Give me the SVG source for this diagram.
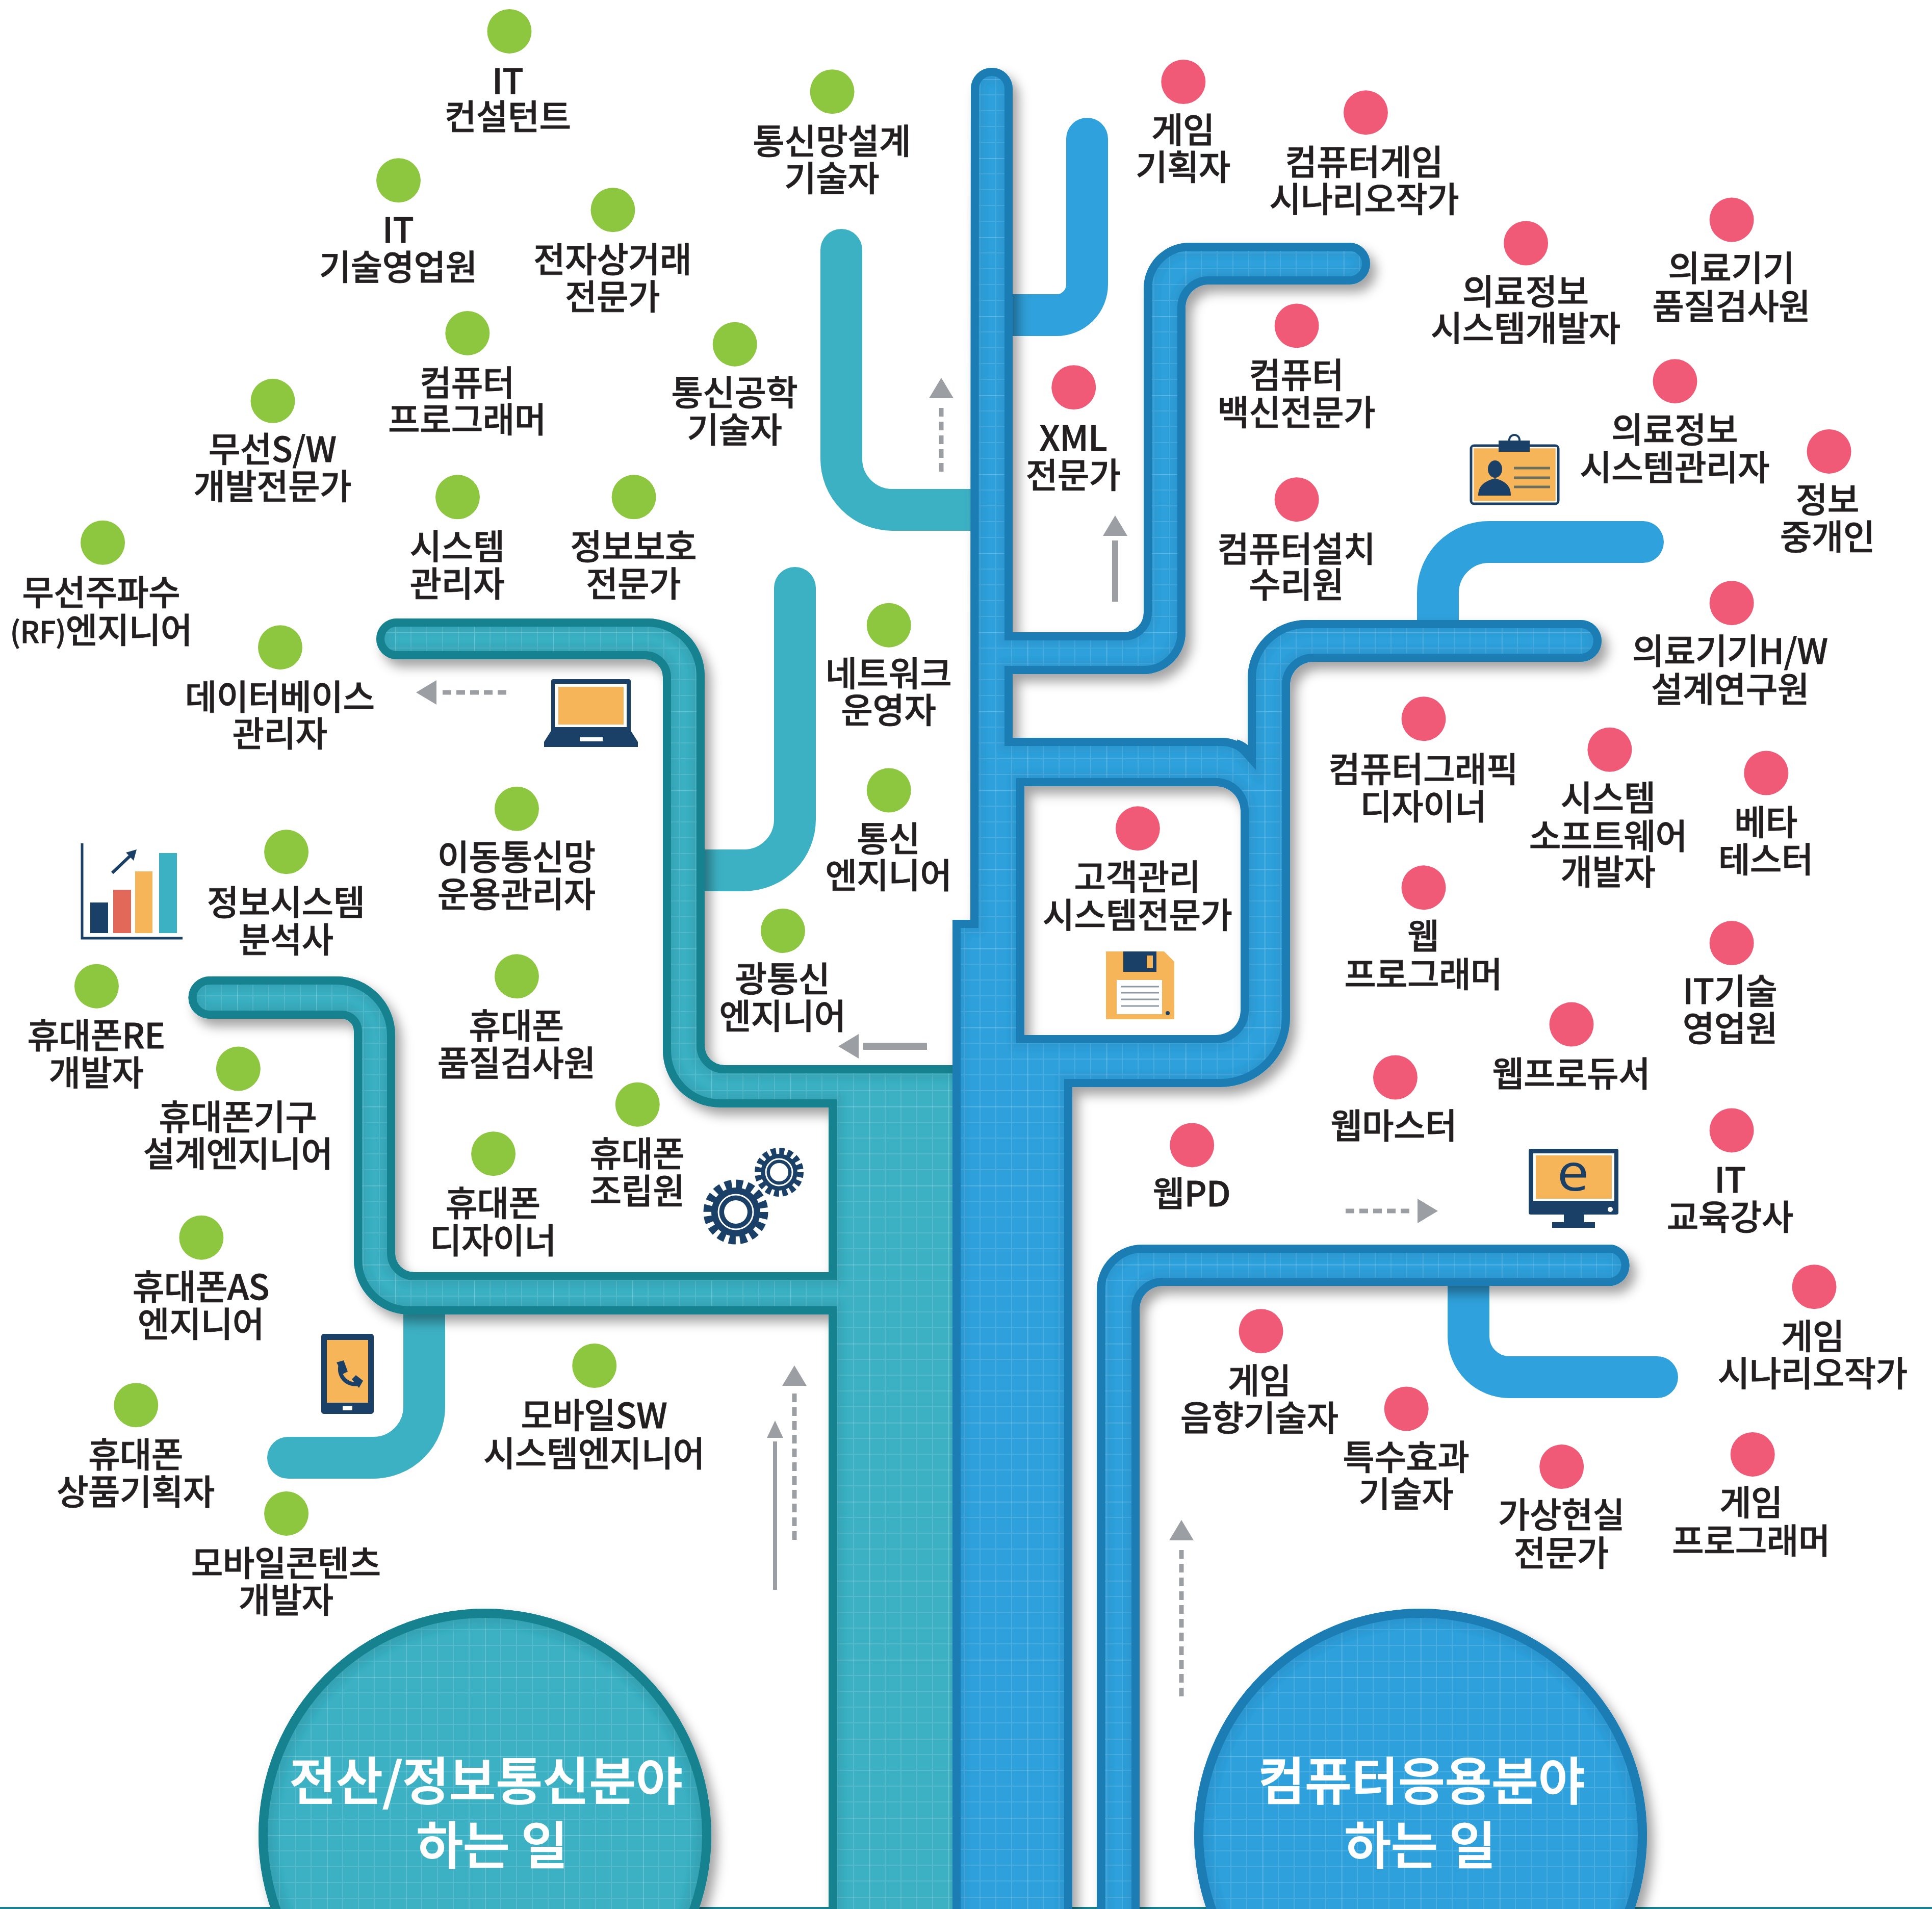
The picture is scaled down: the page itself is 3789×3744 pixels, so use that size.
<svg xmlns="http://www.w3.org/2000/svg" width="3789" height="3744" viewBox="0 0 3789 3744">
<style>
text{font-family:"Noto Sans CJK KR","Noto Sans",sans-serif;}
.lb text{font-size:28.2px;font-weight:500;fill:#231f20;stroke:#231f20;stroke-width:.32px;text-anchor:middle;letter-spacing:-.3px}
.g{fill:#8dc63f}.r{fill:#f15a77}
.title{font-size:99.5px;font-weight:500;fill:#fff;stroke:#fff;stroke-width:2px;text-anchor:middle}
.pb{fill:none;stroke:#2fa1dc;stroke-width:82;stroke-linecap:round}
.pt{fill:none;stroke:#3cb1c4;stroke-width:82;stroke-linecap:round}
.ds{fill:none;stroke:#9b9fa3;stroke-width:9;stroke-dasharray:17 10}
.sl{fill:none;stroke:#9b9fa3;stroke-width:9}
.navy{fill:#1a4067}.or{fill:#f7b55a}
</style>
<defs>
<pattern id="grid" width="155" height="155" patternUnits="userSpaceOnUse">
<path d="M31 0V155M62 0V155M93 0V155M124 0V155M0 31H155M0 62H155M0 93H155M0 124H155" stroke="#fff" stroke-opacity=".13" stroke-width="2" fill="none"/>
<path d="M0 0V155M0 0H155" stroke="#fff" stroke-opacity=".26" stroke-width="3" fill="none"/>
</pattern>
<filter id="shadow" x="-10%" y="-10%" width="120%" height="120%"><feDropShadow dx="12" dy="15" stdDeviation="11" flood-color="#000" flood-opacity=".36"/></filter>
<filter id="blur" x="-10%" y="-10%" width="120%" height="120%"><feGaussianBlur stdDeviation="8"/></filter>
<marker id="ah" viewBox="0 0 40 48" markerUnits="userSpaceOnUse" markerWidth="40" markerHeight="48" refX="-9" refY="24" orient="auto" overflow="visible"><path d="M0 0L40 24L0 48Z" fill="#9b9fa3"/></marker>
<marker id="as" viewBox="0 0 34 32" markerUnits="userSpaceOnUse" markerWidth="34" markerHeight="32" refX="-7" refY="16" orient="auto" overflow="visible"><path d="M0 0L34 16L0 32Z" fill="#9b9fa3"/></marker>

<path id="blueShape" fill-rule="evenodd" clip-rule="evenodd" d="M1904 174A41 41 0 0 1 1986 174V1240H2205A38 38 0 0 0 2243 1202V566A90 90 0 0 1 2333 476H2646A41 41 0 0 1 2646 558H2370A45 45 0 0 0 2325 603V1240A82 82 0 0 1 2243 1322H1986V1447H2398Q2430 1449 2447 1468V1330A114 114 0 0 1 2561 1216H3100A41 41 0 0 1 3100 1298H2575A45 45 0 0 0 2530 1343V1995A137 137 0 0 1 2393 2132H2103V3800H1868V1804H1903ZM2009 1542V2030H2385A48 48 0 0 0 2433 1982V1590A48 48 0 0 0 2385 1542ZM2151 3800V2530A89 89 0 0 1 2240 2441H3161A41 41 0 0 1 3161 2522H2280A45 45 0 0 0 2235 2567V3800Z"/>
<clipPath id="blueClip"><use href="#blueShape"/></clipPath>
<path id="tealShape" fill-rule="evenodd" clip-rule="evenodd" d="M1920 2089H1420A38 38 0 0 1 1382 2051V1325A112 112 0 0 0 1270 1213H778A40 40 0 0 0 778 1293H1265A35 35 0 0 1 1300 1328V2060A112 112 0 0 0 1412 2172H1625V2495H812A37 37 0 0 1 775 2458V2030A115 115 0 0 0 660 1915H411A41 41 0 0 0 411 1998H670A24 24 0 0 1 694 2022V2470A108 108 0 0 0 802 2578H1625V3800H1920Z"/>
<clipPath id="tealClip"><use href="#tealShape"/></clipPath>
<circle id="circ" r="444"/>
<clipPath id="c1"><use href="#circ" x="951" y="3599"/></clipPath>
<clipPath id="c2"><use href="#circ" x="2786" y="3599"/></clipPath>
</defs>
<rect width="3789" height="3744" fill="#fff"/>
<rect y="3740" width="3789" height="4" fill="#19818f"/>

<g id="connectors">
<g id="plain-branches">
<path class="pt" d="M1650 490V900A100 100 0 0 0 1750 1000H1935"/>
<path class="pt" d="M1559 1153V1607A100 100 0 0 1 1459 1707H1345"/>
<path class="pt" d="M832 2550V2759A100 100 0 0 1 732 2859H565"/>
<path class="pb" d="M2132 272V558A60 60 0 0 1 2072 618H1950"/>
<path class="pb" d="M2820 1250V1163A100 100 0 0 1 2920 1063H3222"/>
<path class="pb" d="M2880 2500V2621A80 80 0 0 0 2960 2701H3250"/>
</g>
<g id="teal-tree" filter="url(#shadow)">
<use href="#tealShape" fill="#3cb1c4"/>
<use href="#tealShape" fill="url(#grid)"/>
<g clip-path="url(#tealClip)"><use href="#tealShape" fill="none" stroke="#19818f" stroke-opacity=".28" stroke-width="56" filter="url(#blur)"/><use href="#tealShape" fill="none" stroke="#19818f" stroke-width="32"/></g>
</g>
<g id="blue-tree" filter="url(#shadow)">
<use href="#blueShape" fill="#2fa1dc"/>
<use href="#blueShape" fill="url(#grid)"/>
<g clip-path="url(#blueClip)"><use href="#blueShape" fill="none" stroke="#1b7db5" stroke-opacity=".28" stroke-width="56" filter="url(#blur)"/><use href="#blueShape" fill="none" stroke="#1b7db5" stroke-width="32"/></g>
<path d="M2425 1456Q2445 1462 2458 1484" fill="none" stroke="#1b7db5" stroke-width="12"/>
</g>
<g id="arrows">
<path class="ds" d="M1846 925V790" marker-end="url(#ah)"/>
<path class="sl" style="stroke-width:12" d="M2187 1180V1060" marker-end="url(#ah)"/>
<path class="ds" d="M993 1358H865" marker-end="url(#ah)"/>
<path class="sl" style="stroke-width:14" d="M1818 2052H1693" marker-end="url(#ah)"/>
<path class="ds" d="M2639 2375H2771" marker-end="url(#ah)"/>
<path class="ds" d="M1558 3020V2727" marker-end="url(#ah)"/>
<path class="sl" style="stroke-width:8" d="M1520 3118V2827" marker-end="url(#as)"/>
<path class="ds" d="M2317 3327V3030" marker-end="url(#ah)"/>
</g>
</g>

<g id="root-left" filter="url(#shadow)">
<use href="#circ" x="951" y="3599" fill="#3cb1c4"/>
<use href="#circ" x="951" y="3599" fill="url(#grid)"/>
<g clip-path="url(#c1)"><use href="#circ" x="951" y="3599" fill="none" stroke="#19818f" stroke-opacity=".3" stroke-width="66" filter="url(#blur)"/><use href="#circ" x="951" y="3599" fill="none" stroke="#19818f" stroke-width="36"/></g>
<text class="title"><tspan x="953" y="3530">전산/정보통신분야</tspan><tspan x="965" y="3656">하는 일</tspan></text>
</g>
<g id="root-right" filter="url(#shadow)">
<use href="#circ" x="2786" y="3599" fill="#2fa1dc"/>
<use href="#circ" x="2786" y="3599" fill="url(#grid)"/>
<g clip-path="url(#c2)"><use href="#circ" x="2786" y="3599" fill="none" stroke="#1b7db5" stroke-opacity=".3" stroke-width="66" filter="url(#blur)"/><use href="#circ" x="2786" y="3599" fill="none" stroke="#1b7db5" stroke-width="36"/></g>
<text class="title"><tspan x="2788" y="3530">컴퓨터응용분야</tspan><tspan x="2785" y="3656">하는 일</tspan></text>
</g>

<g id="icons">
<g id="icon-laptop">
<path class="navy" d="M1081 1336Q1081 1332 1085 1332H1233Q1237 1332 1237 1336V1433L1251 1455V1465H1067V1455L1081 1433Z"/>
<rect x="1088" y="1341" width="141" height="85" fill="#fff"/>
<rect class="or" x="1095" y="1347" width="128" height="74"/>
<rect x="1137" y="1446" width="45" height="8" fill="#fff"/>
</g>
<g id="icon-chart">
<path d="M161 1654V1840H358" fill="none" stroke="#1a4067" stroke-width="5"/>
<rect class="navy" x="177" y="1770" width="35" height="60"/>
<rect x="222" y="1745" width="35" height="85" fill="#e2695a"/>
<rect class="or" x="265" y="1709" width="34" height="121"/>
<rect x="312" y="1673" width="35" height="157" fill="#3cb1c4"/>
<path d="M220 1712L258 1676" stroke="#1a4067" stroke-width="6" fill="none"/>
<path class="navy" d="M268 1666L262 1688L247 1672Z"/>
</g>
<g id="icon-phone">
<rect class="navy" x="630" y="2616" width="103" height="157" rx="5"/>
<rect class="or" x="641" y="2628" width="81" height="123"/>
<rect x="672" y="2758" width="19" height="8" fill="#fff"/>
<path d="M668 2677C662 2700 682 2718 702 2714" fill="none" stroke="#1a4067" stroke-width="8"/>
<path class="navy" d="M660 2672L674 2668L682 2690L672 2695ZM690 2705L698 2697L712 2708L704 2722Z"/>
</g>
<g id="icon-gears">
<circle class="navy" cx="1443" cy="2377" r="48"/>
<circle cx="1443" cy="2377" r="55" fill="none" stroke="#1a4067" stroke-width="17" stroke-dasharray="13.2 8.4"/>
<circle cx="1443" cy="2377" r="34" fill="none" stroke="#fff" stroke-width="3"/>
<circle cx="1443" cy="2377" r="23" fill="#fff"/>
<circle class="navy" cx="1528" cy="2299" r="36"/>
<circle cx="1528" cy="2299" r="41" fill="none" stroke="#1a4067" stroke-width="14" stroke-dasharray="9.8 6.3"/>
<circle cx="1528" cy="2299" r="26" fill="none" stroke="#fff" stroke-width="3"/>
<circle cx="1528" cy="2299" r="18" fill="#fff"/>
</g>
<g id="icon-floppy">
<path class="or" d="M2169 1866H2283L2303 1886V1999H2169Z"/>
<rect class="navy" x="2203" y="1866" width="65" height="40"/>
<rect class="or" x="2249" y="1874" width="12" height="25"/>
<rect x="2190" y="1922" width="89" height="67" fill="#fff"/>
<path d="M2198 1935H2273M2198 1947H2273M2198 1960H2273M2198 1973H2273" stroke="#8d99a6" stroke-width="3"/>
<circle class="navy" cx="2290" cy="1987" r="4"/>
</g>
<g id="icon-id">
<circle cx="2970" cy="863" r="10" fill="none" stroke="#1a4067" stroke-width="4"/>
<rect x="2885" y="874" width="171" height="114" rx="6" fill="#f7b55a" stroke="#1a4067" stroke-width="5"/>
<rect x="2889" y="878" width="163" height="106" fill="none" stroke="#fff" stroke-width="2.5"/>
<rect class="navy" x="2939" y="864" width="61" height="22"/>
<ellipse class="navy" cx="2932" cy="920" rx="14" ry="17"/>
<path class="navy" d="M2899 972C2899 950 2915 943 2932 938C2949 943 2963 950 2963 972Z"/>
<path d="M2969 918H3040M2969 937H3040M2969 955H3040" stroke="#6b6f5e" stroke-width="5"/>
</g>
<g id="icon-monitor">
<rect class="navy" x="2998" y="2253" width="176" height="129" rx="4"/>
<rect x="3007" y="2262" width="159" height="93" fill="#fff"/>
<rect class="or" x="3012" y="2266" width="149" height="85"/>
<rect class="navy" x="3067" y="2380" width="40" height="20"/>
<rect class="navy" x="3044" y="2397" width="84" height="11"/>
<circle cx="3158" cy="2372" r="5" fill="#fff"/>
<text transform="translate(3085 2335) scale(1.12 1)" font-size="100" text-anchor="middle" fill="#1a4067" style="font-family:'Open Sans',sans-serif">e</text>
</g>
</g>

<g id="nodes" class="lb" transform="scale(2.4165)">
<g id="n01"><circle class="g" cx="413.4" cy="25.4" r="18"/><text><tspan x="412" y="76">IT</tspan><tspan x="412" y="105">컨설턴트</tspan></text></g>
<g id="n02"><circle class="g" cx="323.4" cy="146.4" r="18"/><text><tspan x="323" y="197">IT</tspan><tspan x="323" y="227">기술영업원</tspan></text></g>
<g id="n03"><circle class="g" cx="497.4" cy="170.4" r="18"/><text><tspan x="497" y="221">전자상거래</tspan><tspan x="497" y="251">전문가</tspan></text></g>
<g id="n04"><circle class="g" cx="675.4" cy="74.4" r="18"/><text><tspan x="675" y="125">통신망설계</tspan><tspan x="675" y="155">기술자</tspan></text></g>
<g id="n05"><circle class="g" cx="379.4" cy="270.4" r="18"/><text><tspan x="379" y="321">컴퓨터</tspan><tspan x="379" y="351">프로그래머</tspan></text></g>
<g id="n06"><circle class="g" cx="596.4" cy="279.4" r="18"/><text><tspan x="596" y="329">통신공학</tspan><tspan x="596" y="359">기술자</tspan></text></g>
<g id="n07"><circle class="g" cx="221.4" cy="325.4" r="18"/><text><tspan x="221" y="375">무선S/W</tspan><tspan x="221" y="405">개발전문가</tspan></text></g>
<g id="n08"><circle class="g" cx="371.4" cy="403.4" r="18"/><text><tspan x="371" y="454">시스템</tspan><tspan x="371" y="484">관리자</tspan></text></g>
<g id="n09"><circle class="g" cx="514.4" cy="403.4" r="18"/><text><tspan x="514" y="454">정보보호</tspan><tspan x="514" y="484">전문가</tspan></text></g>
<g id="n10"><circle class="g" cx="83.4" cy="440.4" r="18"/><text><tspan x="82" y="491">무선주파수</tspan><tspan x="82" y="522"><tspan style="font-size:24px">(RF)</tspan>엔지니어</tspan></text></g>
<g id="n11"><circle class="g" cx="227.4" cy="525.4" r="18"/><text><tspan x="227" y="576">데이터베이스</tspan><tspan x="227" y="606">관리자</tspan></text></g>
<g id="n12"><circle class="g" cx="721.4" cy="507.4" r="18"/><text><tspan x="721" y="557">네트워크</tspan><tspan x="721" y="587">운영자</tspan></text></g>
<g id="n13"><circle class="g" cx="721.4" cy="641.4" r="18"/><text><tspan x="721" y="691">통신</tspan><tspan x="721" y="721">엔지니어</tspan></text></g>
<g id="n14"><circle class="g" cx="419.4" cy="656.4" r="18"/><text><tspan x="419" y="706">이동통신망</tspan><tspan x="419" y="736">운용관리자</tspan></text></g>
<g id="n15"><circle class="g" cx="232.4" cy="691.4" r="18"/><text><tspan x="232" y="743">정보시스템</tspan><tspan x="232" y="773">분석사</tspan></text></g>
<g id="n16"><circle class="g" cx="635.4" cy="755.4" r="18"/><text><tspan x="635" y="805">광통신</tspan><tspan x="635" y="835">엔지니어</tspan></text></g>
<g id="n17"><circle class="g" cx="78.4" cy="800.4" r="18"/><text><tspan x="78" y="851">휴대폰RE</tspan><tspan x="78" y="881">개발자</tspan></text></g>
<g id="n18"><circle class="g" cx="419.4" cy="792.4" r="18"/><text><tspan x="419" y="843">휴대폰</tspan><tspan x="419" y="873">품질검사원</tspan></text></g>
<g id="n19"><circle class="g" cx="193.4" cy="867.4" r="18"/><text><tspan x="193" y="917">휴대폰기구</tspan><tspan x="193" y="947">설계엔지니어</tspan></text></g>
<g id="n20"><circle class="g" cx="517.4" cy="896.4" r="18"/><text><tspan x="517" y="947">휴대폰</tspan><tspan x="517" y="977">조립원</tspan></text></g>
<g id="n21"><circle class="g" cx="400.4" cy="936.4" r="18"/><text><tspan x="400" y="987">휴대폰</tspan><tspan x="400" y="1017">디자이너</tspan></text></g>
<g id="n22"><circle class="g" cx="163.4" cy="1004.4" r="18"/><text><tspan x="163" y="1055">휴대폰AS</tspan><tspan x="163" y="1085">엔지니어</tspan></text></g>
<g id="n23"><circle class="g" cx="482.4" cy="1108.4" r="18"/><text><tspan x="482" y="1159">모바일SW</tspan><tspan x="482" y="1190">시스템엔지니어</tspan></text></g>
<g id="n24"><circle class="g" cx="110.4" cy="1140.4" r="18"/><text><tspan x="110" y="1191">휴대폰</tspan><tspan x="110" y="1221">상품기획자</tspan></text></g>
<g id="n25"><circle class="g" cx="232.4" cy="1228.4" r="18"/><text><tspan x="232" y="1279">모바일콘텐츠</tspan><tspan x="232" y="1309">개발자</tspan></text></g>
<g id="n26"><circle class="r" cx="960.4" cy="66.4" r="18"/><text><tspan x="960" y="116">게임</tspan><tspan x="960" y="146">기획자</tspan></text></g>
<g id="n27"><circle class="r" cx="1108.4" cy="91.4" r="18"/><text><tspan x="1107" y="142">컴퓨터게임</tspan><tspan x="1107" y="172">시나리오작가</tspan></text></g>
<g id="n28"><circle class="r" cx="1238.4" cy="197.4" r="18"/><text><tspan x="1238" y="247">의료정보</tspan><tspan x="1238" y="277">시스템개발자</tspan></text></g>
<g id="n29"><circle class="r" cx="1405.4" cy="178.4" r="18"/><text><tspan x="1405" y="228">의료기기</tspan><tspan x="1405" y="259">품질검사원</tspan></text></g>
<g id="n30"><circle class="r" cx="1052.4" cy="264.4" r="18"/><text><tspan x="1052" y="315">컴퓨터</tspan><tspan x="1052" y="345">백신전문가</tspan></text></g>
<g id="n31"><circle class="r" cx="871.4" cy="314.4" r="18"/><text><tspan x="871" y="366">XML</tspan><tspan x="871" y="396">전문가</tspan></text></g>
<g id="n32"><circle class="r" cx="1359.4" cy="309.4" r="18"/><text><tspan x="1359" y="359">의료정보</tspan><tspan x="1359" y="390">시스템관리자</tspan></text></g>
<g id="n33"><circle class="r" cx="1484.4" cy="366.4" r="18"/><text><tspan x="1483" y="416">정보</tspan><tspan x="1483" y="446">중개인</tspan></text></g>
<g id="n34"><circle class="r" cx="1052.4" cy="405.4" r="18"/><text><tspan x="1052" y="456">컴퓨터설치</tspan><tspan x="1052" y="485">수리원</tspan></text></g>
<g id="n35"><circle class="r" cx="1405.4" cy="489.4" r="18"/><text><tspan x="1404" y="539">의료기기H/W</tspan><tspan x="1404" y="570">설계연구원</tspan></text></g>
<g id="n36"><circle class="r" cx="1155.4" cy="583.4" r="18"/><text><tspan x="1155" y="635">컴퓨터그래픽</tspan><tspan x="1155" y="665">디자이너</tspan></text></g>
<g id="n37"><circle class="r" cx="1306.4" cy="608.4" r="18"/><text><tspan x="1305" y="658">시스템</tspan><tspan x="1305" y="689">소프트웨어</tspan><tspan x="1305" y="718">개발자</tspan></text></g>
<g id="n38"><circle class="r" cx="1433.4" cy="627.4" r="18"/><text><tspan x="1433" y="678">베타</tspan><tspan x="1433" y="708">테스터</tspan></text></g>
<g id="n39"><circle class="r" cx="923.4" cy="672.4" r="18"/><text><tspan x="923" y="722">고객관리</tspan><tspan x="923" y="753">시스템전문가</tspan></text></g>
<g id="n40"><circle class="r" cx="1155.4" cy="720.4" r="18"/><text><tspan x="1155" y="770">웹</tspan><tspan x="1155" y="801">프로그래머</tspan></text></g>
<g id="n41"><circle class="r" cx="1405.4" cy="765.4" r="18"/><text><tspan x="1404" y="815">IT기술</tspan><tspan x="1404" y="845">영업원</tspan></text></g>
<g id="n42"><circle class="r" cx="1275.4" cy="831.4" r="18"/><text><tspan x="1275" y="882">웹프로듀서</tspan></text></g>
<g id="n43"><circle class="r" cx="1132.4" cy="874.4" r="18"/><text><tspan x="1131" y="924">웹마스터</tspan></text></g>
<g id="n44"><circle class="r" cx="1405.4" cy="917.4" r="18"/><text><tspan x="1404" y="968">IT</tspan><tspan x="1404" y="998">교육강사</tspan></text></g>
<g id="n45"><circle class="r" cx="967.4" cy="929.4" r="18"/><text><tspan x="967" y="979">웹PD</tspan></text></g>
<g id="n46"><circle class="r" cx="1472.4" cy="1044.4" r="18"/><text><tspan x="1471" y="1095">게임</tspan><tspan x="1471" y="1125">시나리오작가</tspan></text></g>
<g id="n47"><circle class="r" cx="1023.4" cy="1080.4" r="18"/><text><tspan x="1022" y="1131">게임</tspan><tspan x="1022" y="1161">음향기술자</tspan></text></g>
<g id="n48"><circle class="r" cx="1141.4" cy="1143.4" r="18"/><text><tspan x="1141" y="1193">특수효과</tspan><tspan x="1141" y="1223">기술자</tspan></text></g>
<g id="n49"><circle class="r" cx="1267.4" cy="1190.4" r="18"/><text><tspan x="1267" y="1240">가상현실</tspan><tspan x="1267" y="1271">전문가</tspan></text></g>
<g id="n50"><circle class="r" cx="1422.4" cy="1180.4" r="18"/><text><tspan x="1421" y="1230">게임</tspan><tspan x="1421" y="1261">프로그래머</tspan></text></g>
</g>
</svg>
